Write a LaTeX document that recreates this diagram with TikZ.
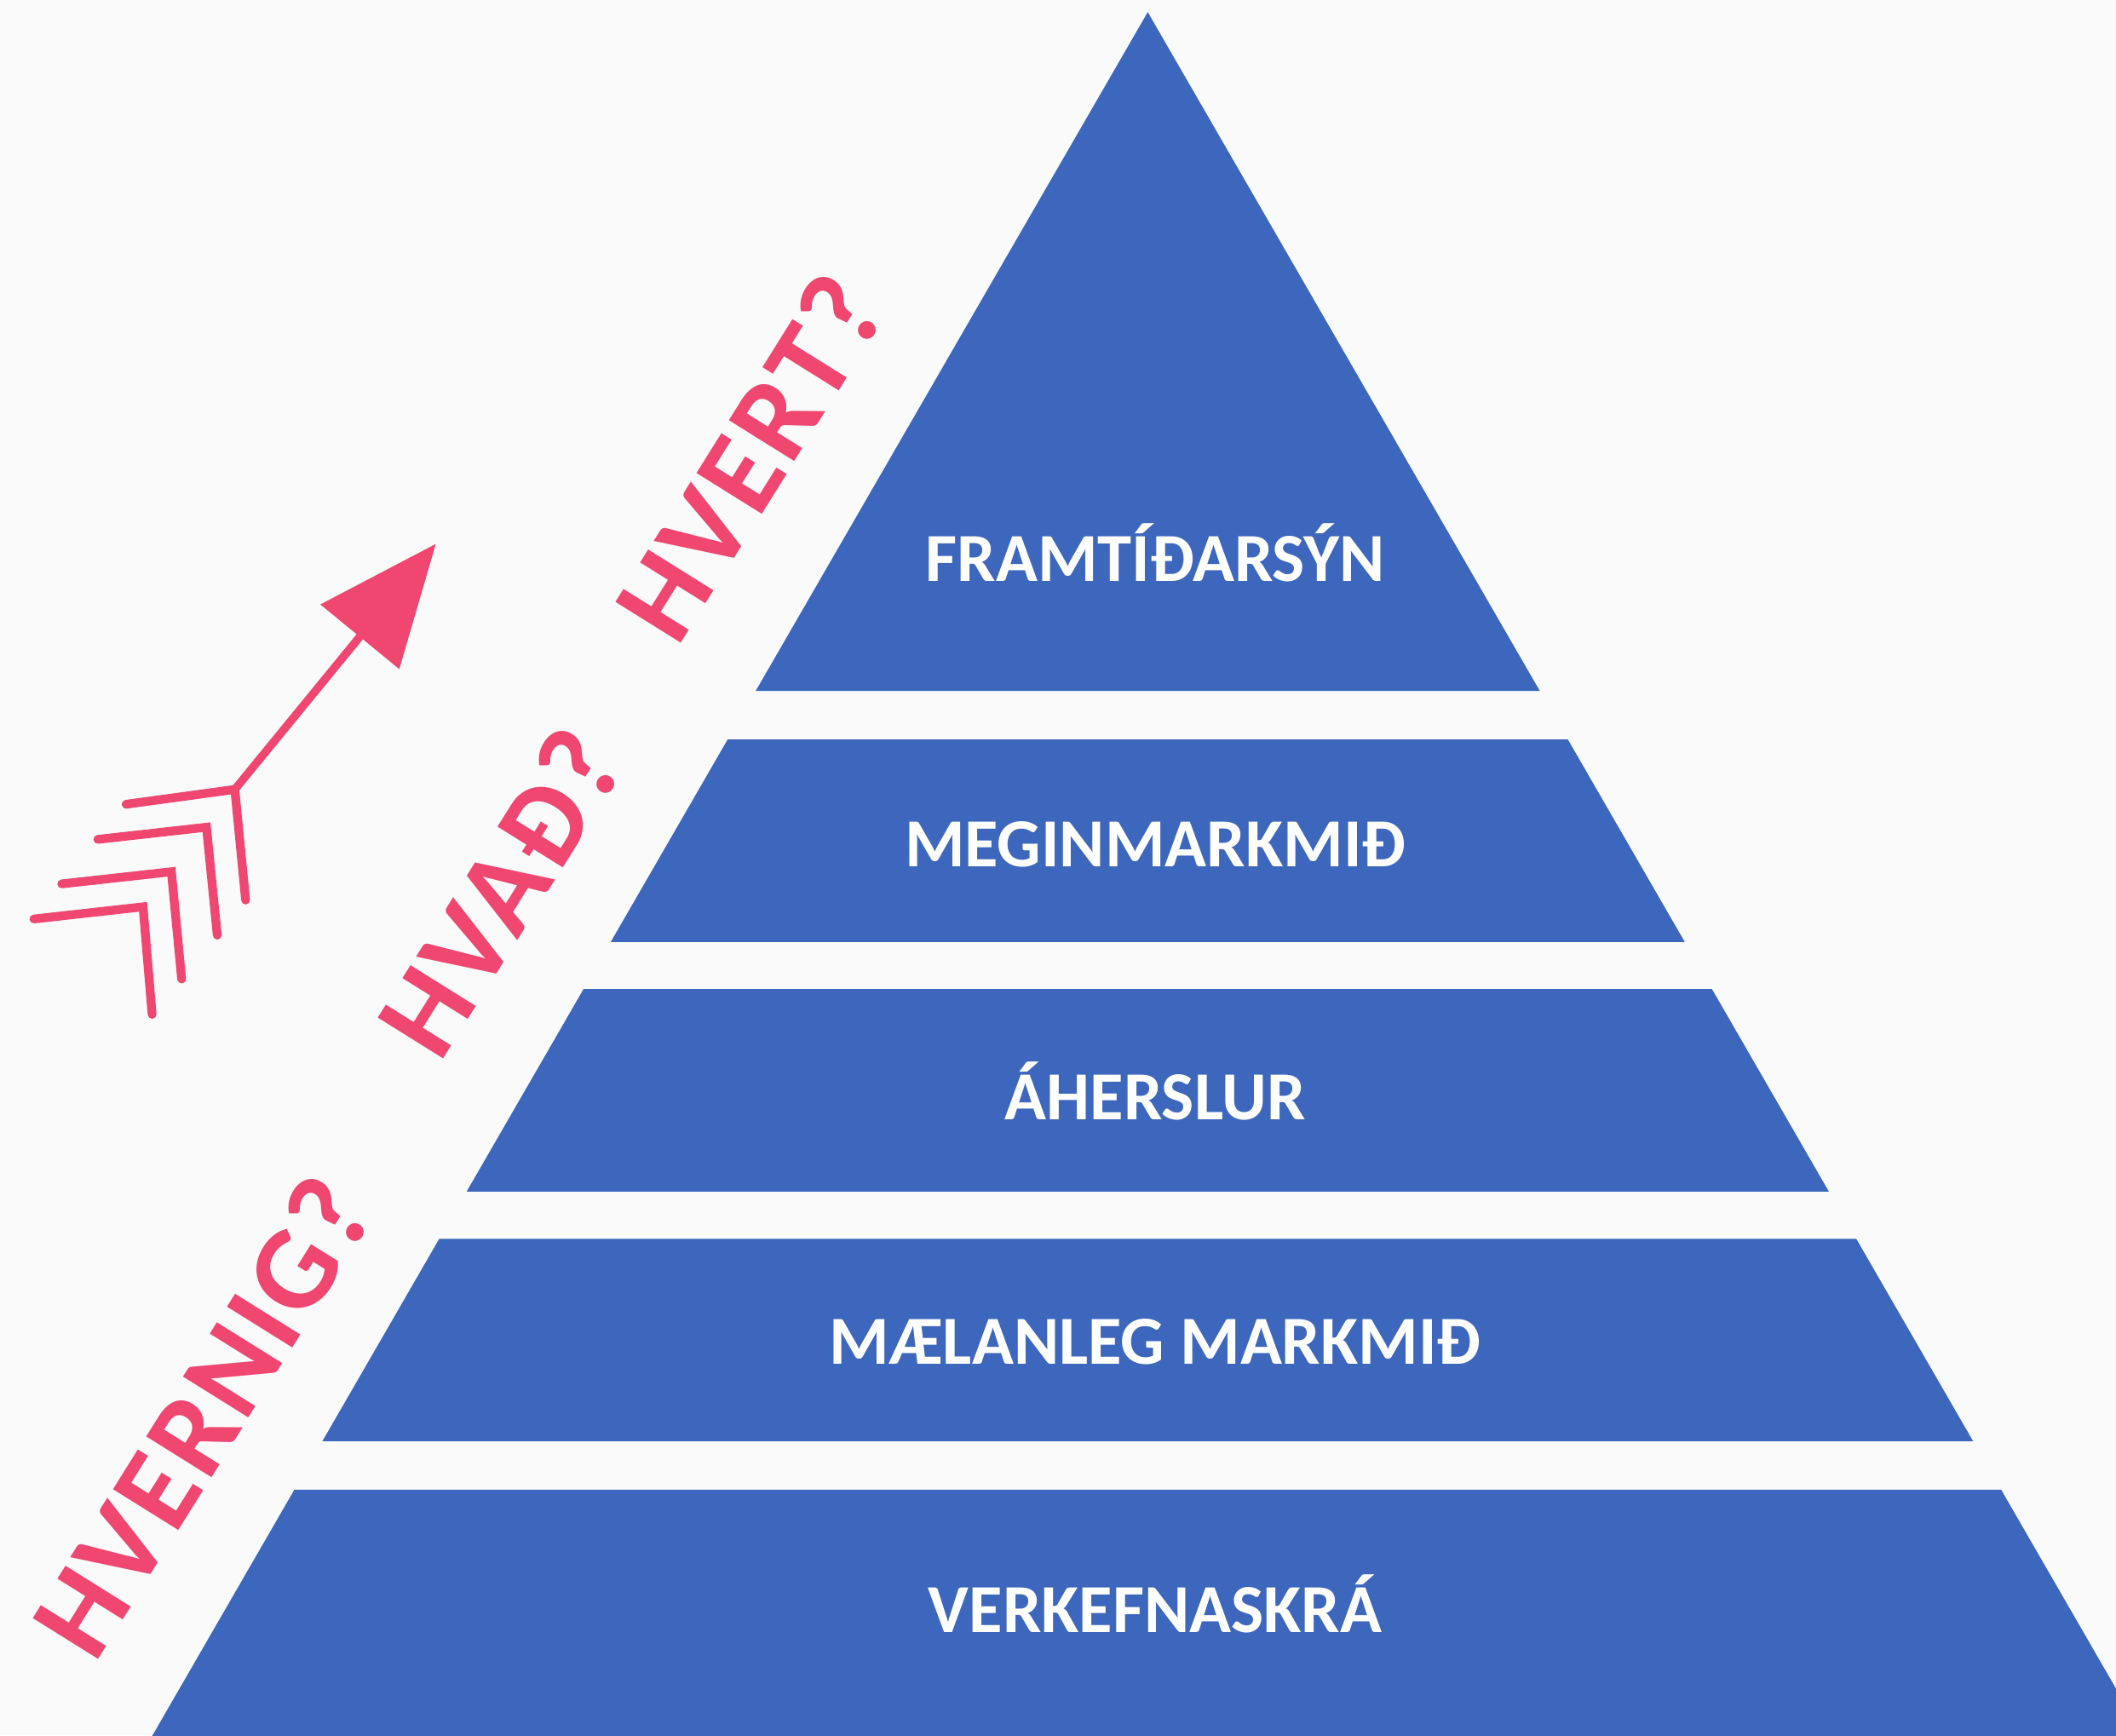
\documentclass[tikz,border=0pt]{standalone}
\usepackage{fontspec}
\setmainfont{Carlito}
\newfontfamily\pinkfont[LetterSpace=3]{Carlito}
\usetikzlibrary{arrows.meta}
\definecolor{bg}{RGB}{250,250,250}
\definecolor{pyr}{RGB}{61,103,188}
\definecolor{pnk}{RGB}{239,71,112}
\tikzset{
  tier/.style={fill=pyr, draw=none},
  tierlabel/.style={text=white, font=\fontsize{51}{54}\selectfont\bfseries, inner sep=0pt, anchor=base},
  question/.style={text=pnk, font=\pinkfont\fontsize{88}{90}\selectfont\bfseries, inner sep=0pt, anchor=base west, rotate=58},
  fletch/.style={draw=pnk, line width=6.5pt, line cap=round, line join=miter},
}
\begin{document}
\begin{tikzpicture}[x=1pt,y=-1pt]
\useasboundingbox (0,0) rectangle (1568,1286);
\clip (0,0) rectangle (1568,1286);
\fill[bg] (0,0) rectangle (1568,1286);
% pyramid tiers
\path[tier] (850.5,9) -- (1141.0,512) -- (560.0,512) -- cycle;
\path[tier] (539.2,548) -- (1161.8,548) -- (1248.4,698) -- (452.6,698) -- cycle;
\path[tier] (432.4,733) -- (1268.6,733) -- (1355.2,883) -- (345.8,883) -- cycle;
\path[tier] (325.5,918) -- (1375.5,918) -- (1462.1,1068) -- (238.9,1068) -- cycle;
\path[tier] (218.1,1104) -- (1482.9,1104) -- (1590.3,1290) -- (110.7,1290) -- cycle;
% labels
\node[tierlabel] (t1) at (856,431) {FRAMTÍÐARSÝN};
\node[tierlabel] (t2) at (856,642) {MEGINMARKMIÐ};
\node[tierlabel] (t3) at (856,830) {ÁHERSLUR};
\node[tierlabel] (t4) at (856,1011) {MÆLANLEG MARKMIÐ};
\node[tierlabel] (t5) at (856,1210) {VERKEFNASKRÁ};
% questions
\node[question] (q1) at (502,481) {HVERT?};
\node[question] (q2) at (326,789) {HVAÐ?};
\node[question] (q3) at (70,1234) {HVERNIG?};
% arrow
\coordinate (tail) at (174,585);
\coordinate (tip) at (323,403);
\draw[draw=pnk, fill=pnk, line width=6pt, -{Triangle[length=89pt,width=74pt]}] (tail) -- (tip);
\coordinate (c1) at (174,585);
\coordinate (c2) at (153,613);
\coordinate (c3) at (127,646);
\coordinate (c4) at (106,672);
\draw[fletch] (93.4,596) -- (c1) -- (182,667);
\draw[fletch] (72.5,622) -- (c2) -- (161,693);
\draw[fletch] (45.7,655) -- (c3) -- (134.6,725.5);
\draw[fletch] (25.1,681) -- (c4) -- (112.7,751.7);
\end{tikzpicture}
\end{document}
